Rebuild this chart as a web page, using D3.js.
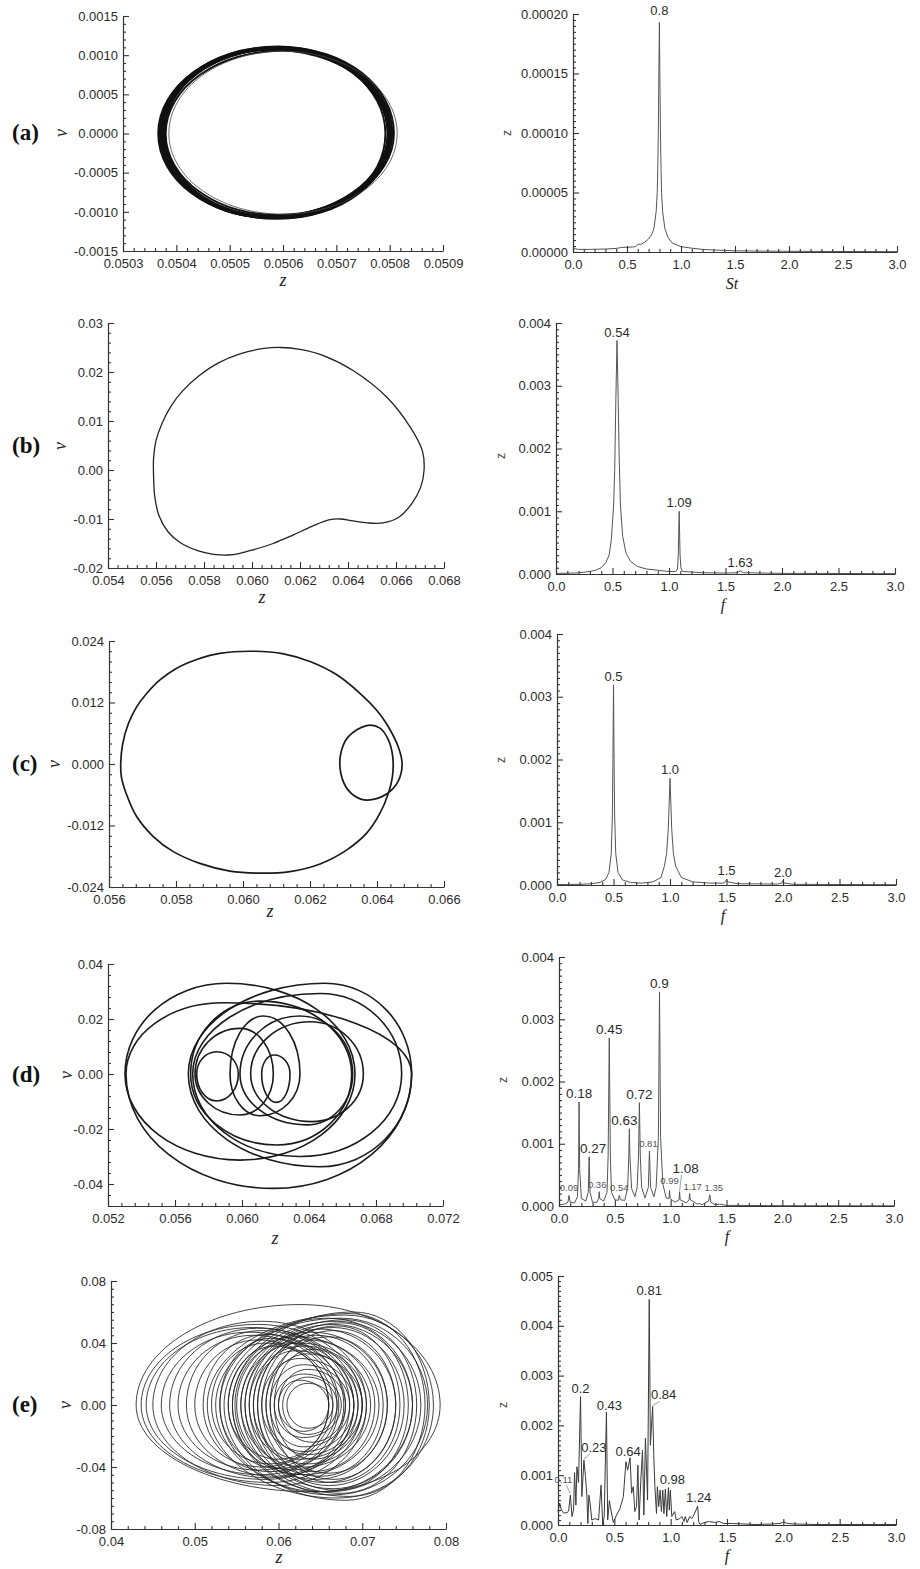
<!DOCTYPE html>
<html>
<head>
<meta charset="utf-8">
<script src="https://cdn.jsdelivr.net/npm/d3@7"></script>
<style>
  body { margin: 0; background: #fff; }
</style>
</head>
<body>
<svg id="fig" width="920" height="1569"></svg>
<script>
// ---------------- tick labels ----------------
const zTicksA = ["0.0503", "0.0504", "0.0505", "0.0506", "0.0507", "0.0508", "0.0509"];
const vTicksA = ["-0.0015", "-0.0010", "-0.0005", "0.0000", "0.0005", "0.0010", "0.0015"];
const zTicksB = ["0.054", "0.056", "0.058", "0.060", "0.062", "0.064", "0.066", "0.068"];
const vTicksB = ["-0.02", "-0.01", "0.00", "0.01", "0.02", "0.03"];
const zTicksC = ["0.056", "0.058", "0.060", "0.062", "0.064", "0.066"];
const vTicksC = ["-0.024", "-0.012", "0.000", "0.012", "0.024"];
const zTicksD = ["0.052", "0.056", "0.060", "0.064", "0.068", "0.072"];
const vTicksD = ["-0.04", "-0.02", "0.00", "0.02", "0.04"];
const vExtentD = [-0.048, 0.04];
const zTicksE = ["0.04", "0.05", "0.06", "0.07", "0.08"];
const vTicksE = ["-0.08", "-0.04", "0.00", "0.04", "0.08"];
const freqTicks = ["0.0", "0.5", "1.0", "1.5", "2.0", "2.5", "3.0"];
const ampTicksA = ["0.00000", "0.00005", "0.00010", "0.00015", "0.00020"];
const ampTicksBCD = ["0.000", "0.001", "0.002", "0.003", "0.004"];
const ampTicksE = ["0.000", "0.001", "0.002", "0.003", "0.004", "0.005"];

// ---------------- phase portraits ----------------
// loops: [z left, z right, z at top, v top, z at bottom, v bottom]
const loopsA = [
  [0.050366, 0.050800, 0.05059, 0.00110, 0.05058, -0.00108],
  [0.050369, 0.050804, 0.05059, 0.00111, 0.05059, -0.00109],
  [0.050372, 0.050796, 0.05058, 0.00109, 0.05057, -0.00107],
  [0.050375, 0.050808, 0.05060, 0.00110, 0.05058, -0.00106],
  [0.050368, 0.050792, 0.05059, 0.00108, 0.05060, -0.00108],
  [0.050378, 0.050800, 0.05058, 0.00107, 0.05058, -0.00105],
  [0.050380, 0.050797, 0.05060, 0.00106, 0.05059, -0.00104],
  [0.050373, 0.050805, 0.05059, 0.00109, 0.05057, -0.00107],
  [0.050376, 0.050802, 0.05059, 0.00108, 0.05058, -0.00106],
  [0.050370, 0.050798, 0.05058, 0.00110, 0.05059, -0.00108]
];
const loopAOuter = [[0.050386, 0.050814, 0.05060, 0.00105, 0.05060, -0.00103]];

// closed orbit [z, v]
const orbitB = [
  [0.05590, 0.0025], [0.05600, 0.0060], [0.05625, 0.0095], [0.05662, 0.0130],
  [0.05712, 0.0162], [0.05778, 0.0192], [0.05858, 0.0218], [0.05950, 0.0237],
  [0.06050, 0.0248], [0.06120, 0.0250], [0.06200, 0.0246], [0.06300, 0.0233],
  [0.06421, 0.0203], [0.06563, 0.0148], [0.06660, 0.0087], [0.06710, 0.0039],
  [0.06717, 0.0000], [0.06703, -0.0035], [0.06665, -0.0069], [0.06610, -0.0097],
  [0.06546, -0.0108], [0.06480, -0.0108], [0.06421, -0.0104], [0.06367, -0.0100],
  [0.06320, -0.0102], [0.06250, -0.0115], [0.06170, -0.0133], [0.06088, -0.0150],
  [0.06004, -0.0163], [0.05950, -0.0170], [0.05900, -0.01735], [0.05840, -0.0172],
  [0.05770, -0.0164], [0.05700, -0.0148], [0.05650, -0.0126], [0.05613, -0.0094],
  [0.05595, -0.0055], [0.05590, -0.0015]
];

// period-2 orbit with inner loop [z, v]
const orbitC = [
  [0.05635, 0.0000], [0.05641, 0.0040], [0.05658, 0.0079], [0.05683, 0.0112],
  [0.05713, 0.0138], [0.05752, 0.0164], [0.05802, 0.0187], [0.05862, 0.0204],
  [0.05931, 0.0216], [0.06031, 0.0220], [0.06121, 0.0215], [0.06200, 0.0200],
  [0.06280, 0.0174], [0.06349, 0.0138], [0.06399, 0.0105], [0.06428, 0.0079],
  [0.06463, 0.0034], [0.06475, 0.0000], [0.06463, -0.0034], [0.06434, -0.0056],
  [0.06389, -0.0069], [0.06354, -0.0069], [0.06314, -0.0051], [0.06292, -0.0018],
  [0.06292, 0.0021], [0.06314, 0.0053], [0.06369, 0.0075], [0.06409, 0.0070],
  [0.06434, 0.0047], [0.06447, 0.0014], [0.06446, -0.0025], [0.06434, -0.0057],
  [0.06409, -0.0096], [0.06369, -0.0135], [0.06309, -0.0168], [0.06230, -0.0195],
  [0.06140, -0.0210], [0.06051, -0.0213], [0.05961, -0.0209], [0.05871, -0.0194],
  [0.05792, -0.0171], [0.05733, -0.0142], [0.05683, -0.0103], [0.05651, -0.0057],
  [0.05637, -0.0025]
];

const loopsD = [
  [0.053015, 0.066746, 0.059085, 0.0330, 0.059881, -0.0313],
  [0.053075, 0.070129, 0.058886, 0.0259, 0.061871, -0.0416],
  [0.056796, 0.070129, 0.064955, 0.0330, 0.064657, -0.0337],
  [0.057055, 0.069532, 0.064657, 0.0293, 0.063463, -0.0300],
  [0.056935, 0.066547, 0.061075, 0.0265, 0.062070, -0.0258],
  [0.057194, 0.061871, 0.059881, 0.0166, 0.059881, -0.0149],
  [0.057294, 0.059781, 0.058488, 0.0081, 0.058488, -0.0098],
  [0.059284, 0.063463, 0.061274, 0.0211, 0.061075, -0.0152],
  [0.061174, 0.062866, 0.061910, 0.0069, 0.062070, -0.0103],
  [0.059881, 0.066607, 0.063463, 0.0211, 0.063860, -0.0185],
  [0.060517, 0.067244, 0.064060, 0.0190, 0.064160, -0.0173]
];

const loopsE = [
  [0.0430, 0.0793, 0.0626, 0.0648, 0.0640, -0.0560],
  [0.0436, 0.0700, 0.0575, 0.0520, 0.0590, -0.0500],
  [0.0442, 0.0690, 0.0570, 0.0500, 0.0585, -0.0480],
  [0.0450, 0.0705, 0.0580, 0.0540, 0.0600, -0.0520],
  [0.0460, 0.0680, 0.0565, 0.0470, 0.0580, -0.0450],
  [0.0470, 0.0695, 0.0575, 0.0495, 0.0590, -0.0470],
  [0.0480, 0.0670, 0.0570, 0.0450, 0.0575, -0.0420],
  [0.0490, 0.0685, 0.0580, 0.0480, 0.0595, -0.0460],
  [0.0500, 0.0665, 0.0575, 0.0420, 0.0580, -0.0400],
  [0.0510, 0.0678, 0.0585, 0.0455, 0.0590, -0.0430],
  [0.0520, 0.0660, 0.0585, 0.0400, 0.0590, -0.0380],
  [0.0530, 0.0672, 0.0590, 0.0430, 0.0600, -0.0410],
  [0.0540, 0.0660, 0.0595, 0.0380, 0.0600, -0.0350],
  [0.0515, 0.0785, 0.0680, 0.0580, 0.0670, -0.0600],
  [0.0525, 0.0778, 0.0675, 0.0560, 0.0665, -0.0580],
  [0.0535, 0.0775, 0.0685, 0.0590, 0.0680, -0.0615],
  [0.0545, 0.0770, 0.0670, 0.0540, 0.0660, -0.0560],
  [0.0555, 0.0765, 0.0680, 0.0550, 0.0675, -0.0570],
  [0.0560, 0.0760, 0.0665, 0.0520, 0.0665, -0.0540],
  [0.0570, 0.0755, 0.0675, 0.0530, 0.0670, -0.0550],
  [0.0575, 0.0750, 0.0665, 0.0500, 0.0660, -0.0520],
  [0.0580, 0.0745, 0.0670, 0.0510, 0.0665, -0.0500],
  [0.0590, 0.0740, 0.0665, 0.0480, 0.0665, -0.0480],
  [0.0545, 0.0780, 0.0690, 0.0600, 0.0685, -0.0590],
  [0.0530, 0.0760, 0.0660, 0.0560, 0.0650, -0.0560],
  [0.0555, 0.0710, 0.0625, 0.0400, 0.0630, -0.0400],
  [0.0565, 0.0705, 0.0630, 0.0380, 0.0635, -0.0380],
  [0.0570, 0.0700, 0.0620, 0.0350, 0.0625, -0.0350],
  [0.0575, 0.0715, 0.0635, 0.0420, 0.0640, -0.0430],
  [0.0580, 0.0690, 0.0625, 0.0300, 0.0630, -0.0300],
  [0.0585, 0.0695, 0.0635, 0.0330, 0.0635, -0.0320],
  [0.0590, 0.0685, 0.0630, 0.0260, 0.0630, -0.0270],
  [0.0595, 0.0700, 0.0640, 0.0360, 0.0640, -0.0350],
  [0.0600, 0.0680, 0.0635, 0.0230, 0.0640, -0.0240],
  [0.0605, 0.0670, 0.0635, 0.0180, 0.0635, -0.0190],
  [0.0610, 0.0665, 0.0635, 0.0140, 0.0635, -0.0150],
  [0.0600, 0.0660, 0.0625, 0.0160, 0.0630, -0.0170],
  [0.0595, 0.0675, 0.0630, 0.0200, 0.0630, -0.0210],
  [0.0560, 0.0725, 0.0645, 0.0450, 0.0650, -0.0460],
  [0.0550, 0.0730, 0.0640, 0.0470, 0.0645, -0.0480],
  [0.0540, 0.0720, 0.0620, 0.0440, 0.0630, -0.0450],
  [0.0565, 0.0740, 0.0650, 0.0490, 0.0655, -0.0500],
  [0.0548, 0.0690, 0.0610, 0.0400, 0.0615, -0.0420],
  [0.0585, 0.0730, 0.0660, 0.0440, 0.0660, -0.0440]
];

// ---------------- spectra [frequency, amplitude] ----------------
const spectrumA = [
  [0, 0.000003], [0.05, 0.0000022], [0.15, 0.0000022], [0.3, 0.0000025], [0.4, 0.000003],
  [0.45, 0.0000038], [0.55, 0.0000042], [0.58, 0.0000045], [0.6, 0.0000065], [0.63, 0.0000065],
  [0.66, 0.000008], [0.7, 0.000011], [0.73, 0.000015], [0.75, 0.00002], [0.77, 0.000034],
  [0.78, 0.00005], [0.785, 0.00007], [0.79, 0.0001], [0.795, 0.00015], [0.8, 0.000193],
  [0.805, 0.00014], [0.81, 0.0001], [0.815, 0.00007], [0.82, 0.00005], [0.83, 0.000034],
  [0.85, 0.00002], [0.88, 0.000012], [0.92, 0.0000075], [1.0, 0.0000045], [1.1, 0.0000032],
  [1.2, 0.0000022], [1.35, 0.0000015], [1.5, 0.000001], [1.8, 0.0000007], [2.2, 0.0000005],
  [3.0, 0.0000003]
];
const spectrumB = [
  [0, 0.00001], [0.1, 0.000012], [0.2, 0.000018], [0.3, 0.00004], [0.35, 0.00006], [0.4, 0.0001],
  [0.44, 0.00018], [0.47, 0.0003], [0.49, 0.00055], [0.51, 0.0011], [0.52, 0.0017], [0.53, 0.0028],
  [0.54, 0.00372], [0.55, 0.0028], [0.56, 0.0018], [0.57, 0.0011], [0.59, 0.0006], [0.62, 0.00033],
  [0.66, 0.0002], [0.72, 0.00012], [0.8, 0.00008], [0.9, 0.00006], [1.0, 0.00004], [1.06, 0.00004],
  [1.075, 0.00008], [1.082, 0.0003], [1.09, 0.001], [1.098, 0.0003], [1.105, 0.0001], [1.12, 0.00004],
  [1.3, 0.00002], [1.5, 0.000015], [1.6, 0.00002], [1.63, 0.00005], [1.66, 0.00002], [2.0, 0.00001],
  [2.5, 0.000008], [3.0, 0.000005]
];
const spectrumC = [
  [0, 0.000008], [0.2, 0.00001], [0.3, 0.00002], [0.38, 0.00004], [0.43, 0.00009], [0.46, 0.0002],
  [0.48, 0.0005], [0.49, 0.0011], [0.495, 0.002], [0.5, 0.00319], [0.505, 0.002], [0.51, 0.0011],
  [0.52, 0.0005], [0.54, 0.0002], [0.58, 0.00008], [0.65, 0.00004], [0.75, 0.00003], [0.85, 0.00005],
  [0.92, 0.00012], [0.95, 0.0003], [0.97, 0.0005], [0.985, 0.0009], [1.0, 0.0017], [1.015, 0.0009],
  [1.03, 0.0005], [1.05, 0.0003], [1.1, 0.00012], [1.2, 0.00005], [1.35, 0.00003], [1.47, 0.00003],
  [1.49, 0.00005], [1.5, 0.00009], [1.51, 0.00005], [1.6, 0.00002], [1.95, 0.000015], [1.99, 0.00003],
  [2.0, 0.00007], [2.01, 0.00003], [2.1, 0.00001], [3.0, 0.000005]
];
const spectrumD = [
  [0, 0.00002], [0.05, 0.00003], [0.08, 0.00006], [0.09, 0.00017], [0.1, 0.00006], [0.14, 0.00005],
  [0.165, 0.00015], [0.175, 0.0006], [0.18, 0.00167], [0.185, 0.0006], [0.2, 0.00012], [0.24, 0.00008],
  [0.262, 0.00022], [0.27, 0.00079], [0.278, 0.00022], [0.3, 0.00006], [0.34, 0.00006], [0.355, 0.00012],
  [0.36, 0.00023], [0.365, 0.00012], [0.4, 0.00008], [0.43, 0.00022], [0.44, 0.0008], [0.45, 0.0027],
  [0.46, 0.0008], [0.47, 0.00022], [0.5, 0.0001], [0.53, 0.00009], [0.54, 0.00017], [0.55, 0.0001],
  [0.59, 0.00009], [0.615, 0.0003], [0.625, 0.0008], [0.63, 0.00124], [0.635, 0.0008], [0.65, 0.00028],
  [0.68, 0.00015], [0.7, 0.0003], [0.712, 0.0008], [0.72, 0.00166], [0.728, 0.0008], [0.74, 0.0003],
  [0.77, 0.00013], [0.8, 0.0003], [0.81, 0.00088], [0.82, 0.0003], [0.85, 0.00015], [0.87, 0.0003],
  [0.89, 0.0011], [0.9, 0.00344], [0.91, 0.0011], [0.93, 0.00035], [0.96, 0.00013], [0.985, 0.00012],
  [0.99, 0.00025], [0.995, 0.00012], [1.04, 0.00006], [1.075, 0.0001], [1.08, 0.00023], [1.085, 0.0001],
  [1.14, 0.00005], [1.165, 0.0001], [1.17, 0.0002], [1.175, 0.0001], [1.24, 0.00003], [1.26, 0.00004],
  [1.28, 0.00002], [1.34, 0.00008], [1.35, 0.00018], [1.36, 0.00006], [1.4, 0.00002], [1.44, 0.00003],
  [1.5, 0.00001], [2.0, 0.000005], [3.0, 0.000003]
];
const spectrumE = [
  [0, 0.00027], [0.015, 0.00044], [0.03, 0.0003], [0.05, 0.00024], [0.08, 0.00025], [0.094, 0.00028],
  [0.11, 0.0006], [0.124, 0.00017], [0.138, 0.0003], [0.147, 0.00105], [0.159, 0.0004], [0.168, 0.00117],
  [0.182, 0.00085], [0.2, 0.00258], [0.212, 0.00057], [0.23, 0.0013], [0.244, 0.00097], [0.256, 0.0006],
  [0.265, 0.00003], [0.274, 0.0006], [0.285, 0.00044], [0.3, 0.0001], [0.33, 0.00013], [0.36, 0.0001],
  [0.382, 0.0008], [0.397, 0.0], [0.41, 0.00017], [0.43, 0.00227], [0.441, 0.0001], [0.456, 0.00049],
  [0.47, 0.0003], [0.491, 0.00005], [0.52, 0.0002], [0.55, 0.00033], [0.58, 0.00057], [0.603, 0.00127],
  [0.618, 0.0011], [0.64, 0.00135], [0.653, 0.00064], [0.668, 0.00077], [0.682, 0.00027], [0.697, 0.00037],
  [0.709, 0.0012], [0.72, 0.0001], [0.735, 0.0009], [0.75, 0.0015], [0.762, 0.0002], [0.776, 0.00174],
  [0.795, 0.0005], [0.81, 0.00453], [0.82, 0.0016], [0.84, 0.00238], [0.85, 0.0014], [0.86, 0.00077],
  [0.874, 0.00023], [0.882, 0.00077], [0.894, 0.00037], [0.906, 0.0007], [0.918, 0.00027], [0.93, 0.0007],
  [0.94, 0.00023], [0.953, 0.00072], [0.965, 0.00017], [0.98, 0.00075], [0.988, 0.0003], [0.997, 0.0007],
  [1.01, 0.00017], [1.035, 0.00027], [1.05, 0.0001], [1.08, 0.00013], [1.1, 0.00017], [1.118, 0.00007],
  [1.13, 0.00017], [1.147, 0.00005], [1.168, 0.00017], [1.188, 0.00013], [1.206, 0.0002], [1.24, 0.00038],
  [1.248, 0.00007], [1.26, 0.00001], [1.3, 0.00005], [1.345, 0.00007], [1.39, 0.00005], [1.43, 0.00007],
  [1.47, 0.00003], [1.55, 0.00003], [1.65, 0.00002], [1.75, 0.00001], [1.9, 0.00002], [1.97, 0.00003],
  [2.0, 0.00006], [2.04, 0.00003], [2.1, 0.00002], [2.3, 0.00001], [2.6, 0.00001], [3.0, 0.00001]
];

// labelled peaks [frequency, amplitude, text]
const peaksA = [[0.8, 0.000193, "0.8"]];
const peaksB = [[0.54, 0.00372, "0.54"], [1.09, 0.001, "1.09"], [1.63, 0.00005, "1.63"]];
const peaksC = [[0.5, 0.00319, "0.5"], [1.0, 0.0017, "1.0"], [1.5, 0.00009, "1.5"], [2.0, 0.00007, "2.0"]];
const peaksD = [
  [0.09, 0.00017, "0.09"], [0.18, 0.00167, "0.18"], [0.27, 0.00079, "0.27"], [0.36, 0.00023, "0.36"],
  [0.45, 0.0027, "0.45"], [0.54, 0.00017, "0.54"], [0.63, 0.00124, "0.63"], [0.72, 0.00166, "0.72"],
  [0.81, 0.00088, "0.81"], [0.9, 0.00344, "0.9"], [0.99, 0.00025, "0.99"], [1.08, 0.00023, "1.08"],
  [1.17, 0.0002, "1.17"], [1.35, 0.00018, "1.35"]
];
const peaksE = [
  [0.11, 0.0006, "0.11"], [0.2, 0.00258, "0.2"], [0.23, 0.0013, "0.23"], [0.43, 0.00227, "0.43"],
  [0.64, 0.00135, "0.64"], [0.81, 0.00453, "0.81"], [0.84, 0.00238, "0.84"], [0.98, 0.00075, "0.98"],
  [1.24, 0.00038, "1.24"]
];

// ---------------- drawing ----------------
const SANS = '"Liberation Sans", Arial, Helvetica, sans-serif';
const SERIF = '"Liberation Serif", "Times New Roman", Times, serif';
const INK = "#333";
const svg = d3.select("#fig");

function minorValues(domain, majors, sub) {
  const step = (majors[1] - majors[0]) / sub;
  const n = Math.round((domain[1] - domain[0]) / step);
  const out = [];
  for (let i = 0; i <= n; i++) {
    const v = domain[0] + i * step;
    if (!majors.some(m => Math.abs(m - v) < step * 0.01)) out.push(v);
  }
  return out;
}

function styleAxis(g) {
  g.attr("font-family", SANS).attr("font-size", 13);
  g.selectAll("path.domain").attr("stroke", INK).attr("stroke-width", 1.2);
  g.selectAll("line").attr("stroke", INK).attr("stroke-width", 1.1);
  g.selectAll("text").attr("fill", "#2b2b2b");
}

// frame: pixel box; axes drawn on top of the plot layer
function makeFrame(box, xLabels, yLabels, xSub, ySub, yDomain) {
  const xt = xLabels.map(Number), yt = yLabels.map(Number);
  const xd = [xt[0], xt[xt.length - 1]];
  const yd = yDomain || [yt[0], yt[yt.length - 1]];
  const sx = d3.scaleLinear().domain(xd).range([box.x0, box.x1]);
  const sy = d3.scaleLinear().domain(yd).range([box.y1, box.y0]);
  const root = svg.append("g");
  const plot = root.append("g");
  const axes = root.append("g");

  axes.append("g").attr("transform", `translate(0,${box.y1})`)
    .call(d3.axisBottom(sx).tickValues(minorValues(xd, xt, xSub)).tickFormat("").tickSize(-3).tickSizeOuter(0))
    .call(g => g.select(".domain").remove()).call(styleAxis);
  axes.append("g").attr("transform", `translate(${box.x0},0)`)
    .call(d3.axisLeft(sy).tickValues(minorValues(yd, yt, ySub)).tickFormat("").tickSize(-3).tickSizeOuter(0))
    .call(g => g.select(".domain").remove()).call(styleAxis);
  axes.append("g").attr("transform", `translate(0,${box.y1})`)
    .call(d3.axisBottom(sx).tickValues(xt).tickFormat(d => xLabels[xt.indexOf(d)])
      .tickSize(-6).tickSizeOuter(0).tickPadding(8))
    .call(styleAxis);
  axes.append("g").attr("transform", `translate(${box.x0},0)`)
    .call(d3.axisLeft(sy).tickValues(yt).tickFormat(d => yLabels[yt.indexOf(d)])
      .tickSize(-6).tickSizeOuter(0).tickPadding(5))
    .call(styleAxis);
  return { sx, sy, plot };
}

function loopPath(sx, sy, L) {
  const [zL, zR, zT, vT, zB, vB] = L;
  const k = 0.5523;
  const xl = sx(zL), xr = sx(zR), xt = sx(zT), yt = sy(vT), xb = sx(zB), yb = sy(vB), y0 = sy(0);
  const p = d3.path();
  p.moveTo(xl, y0);
  p.bezierCurveTo(xl, y0 + (yt - y0) * k, xt - (xt - xl) * k, yt, xt, yt);
  p.bezierCurveTo(xt + (xr - xt) * k, yt, xr, y0 + (yt - y0) * k, xr, y0);
  p.bezierCurveTo(xr, y0 + (yb - y0) * k, xb + (xr - xb) * k, yb, xb, yb);
  p.bezierCurveTo(xb - (xb - xl) * k, yb, xl, y0 + (yb - y0) * k, xl, y0);
  p.closePath();
  return p.toString();
}

function drawLoops(fr, loops, color, width) {
  fr.plot.append("g").selectAll("path").data(loops).join("path")
    .attr("d", L => loopPath(fr.sx, fr.sy, L))
    .attr("fill", "none").attr("stroke", color).attr("stroke-width", width);
}

function drawOrbit(fr, pts, color, width) {
  const line = d3.line().x(d => fr.sx(d[0])).y(d => fr.sy(d[1]))
    .curve(d3.curveCatmullRomClosed.alpha(0.5));
  fr.plot.append("path").datum(pts).attr("d", line)
    .attr("fill", "none").attr("stroke", color).attr("stroke-width", width);
}

function drawSpectrum(fr, pts, color, width) {
  const line = d3.line().x(d => fr.sx(d[0])).y(d => fr.sy(d[1]));
  fr.plot.append("path").datum(pts).attr("d", line)
    .attr("fill", "none").attr("stroke", color).attr("stroke-width", width)
    .attr("stroke-linejoin", "round");
}

// label nudges [dx, dy] and font sizes for crowded peaks
const labelNudge = {
  "a0.8": [0, -3],
  "d0.63": [-5, 0], "d0.27": [4, 0], "d1.08": [6, -15], "d0.36": [-2, 0], "d0.81": [-1, 0],
  "d0.99": [0, -2], "d1.17": [3, 0], "d1.35": [4, 0],
  "e0.11": [-7, -8], "e0.23": [10, -4.5], "e0.43": [3, 2], "e0.64": [-2, 2], "e0.84": [11, -3],
  "e0.98": [4, 0], "e1.24": [1, 0]
};
const smallLabels = new Set(["d0.09", "d0.36", "d0.54", "d0.81", "d0.99", "d1.17", "d1.35", "e0.11"]);
const leaderLines = new Set(["d1.08", "e0.23", "e0.84", "e0.11"]);

function drawPeakLabels(fr, key, peaks, bigSize) {
  const g = fr.plot.append("g").attr("font-family", SANS).attr("text-anchor", "middle");
  peaks.forEach(([f, a, t]) => {
    const id = key + t;
    const [dx, dy] = labelNudge[id] || [0, 0];
    const small = smallLabels.has(id);
    const px = fr.sx(f), py = fr.sy(a);
    const bx = px + dx, by = py - 4 + dy;
    g.append("text").attr("x", bx).attr("y", by)
      .attr("font-size", small ? 9.5 : bigSize)
      .attr("fill", small ? "#555" : "#2b2b2b")
      .text(t);
    if (leaderLines.has(id)) {
      g.append("line")
        .attr("x1", bx - (dx > 0 ? 4 : -3)).attr("y1", by + 2)
        .attr("x2", px).attr("y2", py - 1)
        .attr("stroke", "#888").attr("stroke-width", 0.8);
    }
  });
}

function textAt(x, y, str, opts) {
  const t = svg.append("text").attr("x", x).attr("y", y).text(str)
    .attr("font-family", opts.family || SERIF)
    .attr("font-size", opts.size || 18)
    .attr("fill", opts.fill || "#222")
    .attr("text-anchor", opts.anchor || "middle");
  if (opts.italic) t.attr("font-style", "italic");
  if (opts.bold) t.attr("font-weight", "bold");
  if (opts.rotate) t.attr("transform", `rotate(-90,${x},${y})`);
  return t;
}

// ----- row (a) -----
const faL = makeFrame({ x0: 123, x1: 443, y0: 16, y1: 251 }, zTicksA, vTicksA, 5, 5);
drawLoops(faL, loopsA, "#111", 1.9);
drawLoops(faL, loopAOuter, "#444", 0.8);
const faR = makeFrame({ x0: 573, x1: 897, y0: 14, y1: 252 }, freqTicks, ampTicksA, 5, 10);
drawSpectrum(faR, spectrumA, "#555", 1);
drawPeakLabels(faR, "a", peaksA, 13);

// ----- row (b) -----
const fbL = makeFrame({ x0: 108, x1: 444, y0: 323, y1: 568 }, zTicksB, vTicksB, 5, 5);
drawOrbit(fbL, orbitB, "#222", 1.3);
const fbR = makeFrame({ x0: 556, x1: 895, y0: 323, y1: 574 }, freqTicks, ampTicksBCD, 5, 10);
drawSpectrum(fbR, spectrumB, "#555", 1);
drawPeakLabels(fbR, "b", peaksB, 13);

// ----- row (c) -----
const fcL = makeFrame({ x0: 109, x1: 444, y0: 641, y1: 887 }, zTicksC, vTicksC, 5, 6);
drawOrbit(fcL, orbitC, "#1a1a1a", 1.7);
const fcR = makeFrame({ x0: 557, x1: 896, y0: 634, y1: 885 }, freqTicks, ampTicksBCD, 5, 10);
drawSpectrum(fcR, spectrumC, "#555", 1);
drawPeakLabels(fcR, "c", peaksC, 13);

// ----- row (d) -----
const fdL = makeFrame({ x0: 108, x1: 443, y0: 964, y1: 1206 }, zTicksD, vTicksD, 5, 5, vExtentD);
drawLoops(fdL, loopsD, "#1a1a1a", 1.6);
const fdR = makeFrame({ x0: 559, x1: 894, y0: 957, y1: 1206 }, freqTicks, ampTicksBCD, 5, 10);
drawSpectrum(fdR, spectrumD, "#555", 1);
drawPeakLabels(fdR, "d", peaksD, 13.5);

// ----- row (e) -----
const feL = makeFrame({ x0: 111, x1: 446, y0: 1281, y1: 1529 }, zTicksE, vTicksE, 5, 8);
drawLoops(feL, loopsE, "#222", 0.85);
const feR = makeFrame({ x0: 558, x1: 896, y0: 1276, y1: 1525 }, freqTicks, ampTicksE, 5, 10);
drawSpectrum(feR, spectrumE, "#3a3a3a", 1);
drawPeakLabels(feR, "e", peaksE, 13);

// ----- panel letters and axis titles -----
const rows = [
  { tag: "(a)", cy: 133, vx: 63, zx: 283, zy: 286, fx: 732, fy: 289, ft: "St", szx: 507 },
  { tag: "(b)", cy: 446, vx: 62, zx: 262, zy: 603, fx: 723, fy: 610, ft: "f", szx: 501 },
  { tag: "(c)", cy: 764, vx: 56, zx: 270, zy: 917, fx: 723, fy: 921, ft: "f", szx: 501 },
  { tag: "(d)", cy: 1075, vx: 68, zx: 275, zy: 1244, fx: 727, fy: 1242, ft: "f", szx: 503 },
  { tag: "(e)", cy: 1405, vx: 67, zx: 279, zy: 1563, fx: 727, fy: 1561, ft: "f", szx: 503 }
];
const spectrumMid = [133, 456, 760, 1080, 1405];
rows.forEach((r, i) => {
  textAt(12, r.cy + 7, r.tag, { bold: true, size: 23, anchor: "start", fill: "#111" });
  textAt(r.vx + 4, r.cy, "v", { italic: true, size: 18, rotate: true });
  textAt(r.zx, r.zy, "z", { italic: true, size: 18 });
  textAt(r.fx, r.fy, r.ft, { italic: true, size: 16 });
  textAt(r.szx + 4, spectrumMid[i], "z", { family: SANS, size: 12, rotate: true, fill: "#444" });
});
</script>
</body>
</html>
